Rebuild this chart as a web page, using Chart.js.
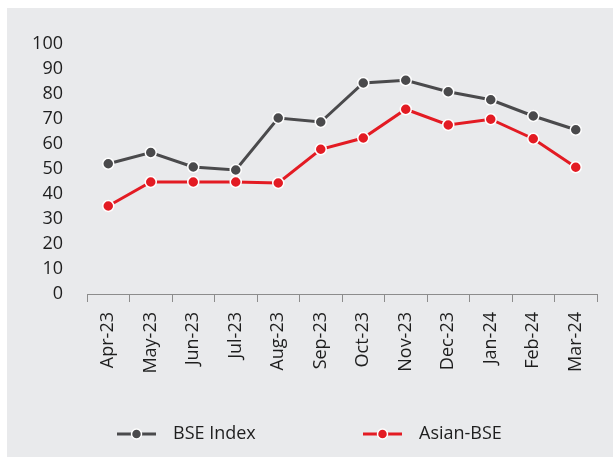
<!DOCTYPE html>
<html>
<head>
<meta charset="utf-8">
<script src="https://cdn.jsdelivr.net/npm/chart.js@4.4.1/dist/chart.umd.min.js"></script>
<style>
    html, body { margin: 0; padding: 0; background: #ffffff; }
    #box {
        position: absolute;
        left: 7px; top: 8px;
        width: 606px; height: 449px;
        background: #e9eaec;
    }
</style>
</head>
<body>
<div id="box"><canvas id="bseChart" width="606" height="449"></canvas></div>
<script>
// ===== DATA =====
const months = ["Apr-23", "May-23", "Jun-23", "Jul-23", "Aug-23", "Sep-23",
                "Oct-23", "Nov-23", "Dec-23", "Jan-24", "Feb-24", "Mar-24"];
const bseIndex = [52.1, 56.6, 50.8, 49.6, 70.4, 68.8, 84.4, 85.5, 80.9, 77.7, 71.2, 65.7];
const asianBse = [35.2, 44.8, 44.8, 44.8, 44.4, 57.9, 62.4, 73.9, 67.6, 69.9, 62.1, 50.7];
const yTicks = [0, 10, 20, 30, 40, 50, 60, 70, 80, 90, 100];

const FONT = "'Open Sans', 'Noto Sans', sans-serif";
const GREY = "#4a4a4c";
const RED = "#e31b23";

// ===== LEGEND (line + dot, as in the original) =====
const lineLegend = {
    id: "lineLegend",
    afterDraw(chart) {
        const ctx = chart.ctx;
        const y = 426;
        const starts = [110, 356];
        ctx.save();
        chart.data.datasets.forEach((ds, i) => {
            const x = starts[i];
            ctx.strokeStyle = ds.borderColor;
            ctx.lineWidth = 3;
            ctx.beginPath();
            ctx.moveTo(x, y);
            ctx.lineTo(x + 39, y);
            ctx.stroke();
            ctx.beginPath();
            ctx.arc(x + 19.5, y, 5, 0, Math.PI * 2);
            ctx.fillStyle = ds.borderColor;
            ctx.fill();
            ctx.lineWidth = 1.5;
            ctx.strokeStyle = "#ffffff";
            ctx.stroke();
            ctx.fillStyle = "#1e1e1e";
            ctx.font = "18px " + FONT;
            ctx.textBaseline = "middle";
            ctx.textAlign = "left";
            ctx.fillText(ds.label, x + 56, y);
        });
        ctx.restore();
    }
};

new Chart(document.getElementById("bseChart"), {
    type: "line",
    data: {
        labels: months,
        datasets: [
            {
                label: "BSE Index",
                data: bseIndex,
                borderColor: GREY,
                backgroundColor: GREY,
                pointBackgroundColor: GREY,
                pointBorderColor: "#ffffff",
                pointBorderWidth: 1.5,
                pointRadius: 5.5,
                borderWidth: 3,
                tension: 0
            },
            {
                label: "Asian-BSE",
                data: asianBse,
                borderColor: RED,
                backgroundColor: RED,
                pointBackgroundColor: RED,
                pointBorderColor: "#ffffff",
                pointBorderWidth: 1.5,
                pointRadius: 5.5,
                borderWidth: 3,
                tension: 0
            }
        ]
    },
    options: {
        responsive: false,
        animation: false,
        layout: { padding: { top: 36, right: 16, bottom: 0, left: 0 } },
        plugins: {
            legend: { display: false },
            tooltip: { enabled: false }
        },
        scales: {
            x: {
                offset: true,
                afterFit(scale) { scale.height = 163; },
                border: { display: true, color: "#8c8c8c", width: 1 },
                grid: {
                    display: true,
                    offset: true,
                    drawOnChartArea: false,
                    drawTicks: true,
                    tickLength: 8,
                    color: "#8c8c8c"
                },
                ticks: {
                    minRotation: 90,
                    maxRotation: 90,
                    padding: 10,
                    color: "#1e1e1e",
                    font: { family: FONT, size: 18 }
                }
            },
            y: {
                min: 0,
                max: 100,
                afterFit(scale) { scale.width = 80; },
                afterBuildTicks(scale) {
                    scale.ticks = yTicks.map(v => ({ value: v }));
                },
                border: { display: false },
                grid: { display: false, drawTicks: false },
                ticks: {
                    padding: 24,
                    color: "#1e1e1e",
                    font: { family: FONT, size: 18 }
                }
            }
        }
    },
    plugins: [lineLegend]
});
</script>
</body>
</html>
